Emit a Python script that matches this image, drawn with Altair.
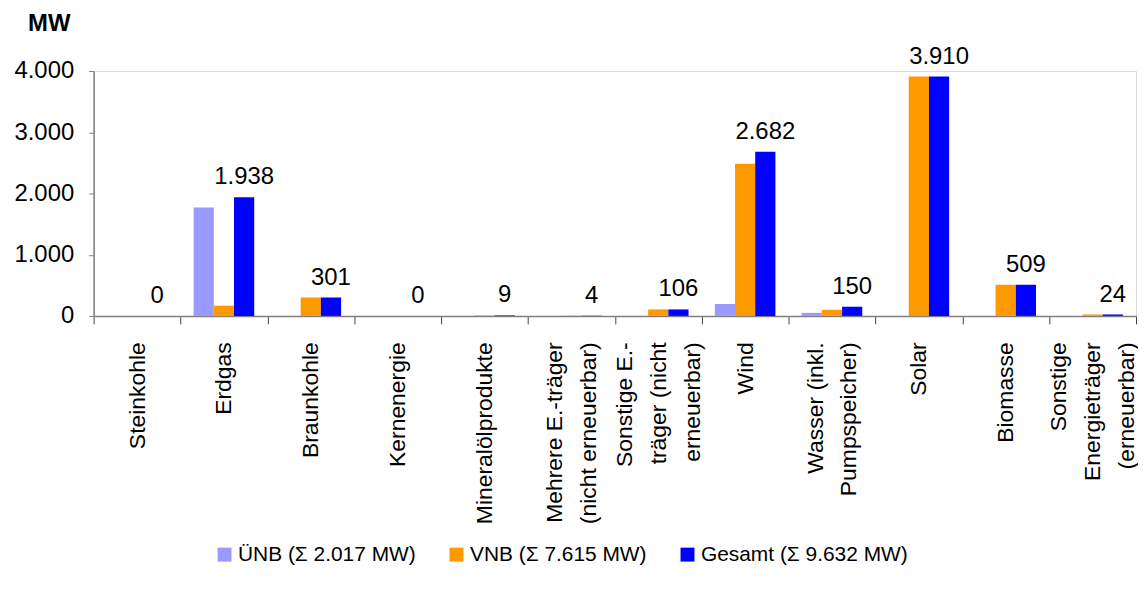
import altair as alt
import pandas as pd

categories = [
    "Steinkohle",
    "Erdgas",
    "Braunkohle",
    "Kernenergie",
    "Mineralölprodukte",
    "Mehrere E.-träger\n(nicht erneuerbar)",
    "Sonstige E.-\nträger (nicht\nerneuerbar)",
    "Wind",
    "Wasser (inkl.\nPumpspeicher)",
    "Solar",
    "Biomasse",
    "Sonstige\nEnergieträger\n(erneuerbar)",
]
series = ["ÜNB (Σ 2.017 MW)", "VNB (Σ 7.615 MW)", "Gesamt (Σ 9.632 MW)"]
colors = ["#9999FF", "#FF9900", "#0000FF"]
uenb = [0, 1772, 0, 0, 0, 0, 0, 195, 50, 0, 0, 0]
vnb = [0, 166, 301, 0, 9, 4, 106, 2487, 100, 3910, 509, 24]
gesamt = [0, 1938, 301, 0, 9, 4, 106, 2682, 150, 3910, 509, 24]
y_ticks = [0, 1000, 2000, 3000, 4000]

rows = []
for s, vals in zip(series, [uenb, vnb, gesamt]):
    for c, v in zip(categories, vals):
        rows.append({"cat": c, "series": s, "value": v})
df = pd.DataFrame(rows)

FONT = "Liberation Sans"
LH = 34

x_enc = alt.X(
    "cat:N",
    sort=categories,
    scale=alt.Scale(paddingInner=0, paddingOuter=0),
    axis=alt.Axis(
        title=None,
        labelAngle=270,
        labelFontSize=23,
        labelFont=FONT,
        labelColor="black",
        labelLimit=0,
        labelOverlap=False,
        labelPadding=18,
        labelLineHeight=LH,
        labelExpr="split(datum.label, '\\n')",
        labelOffset={
            "condition": [
                {"test": "length(split(datum.label, '\\n')) == 3", "value": -LH},
                {"test": "length(split(datum.label, '\\n')) == 2", "value": -LH / 2},
            ],
            "value": 0,
        },
        tickBand="extent",
        tickSize=8,
        tickColor="#444444",
        domainColor="#808080",
        domainWidth=1.5,
        grid=False,
    ),
)
xoff_enc = alt.XOffset(
    "series:N",
    sort=series,
    scale=alt.Scale(domain=series, paddingInner=0, paddingOuter=0.65),
)

y_scale = alt.Scale(domain=[0, 4000], nice=False)

bars = alt.Chart(df).mark_bar().encode(
    x=x_enc,
    xOffset=xoff_enc,
    y=alt.Y(
        "value:Q",
        scale=y_scale,
        axis=alt.Axis(
            values=y_ticks,
            labelExpr="replace(format(datum.value, ',d'), ',', '.')",
            labelFontSize=24,
            labelFont=FONT,
            labelColor="black",
            labelPadding=15,
            tickSize=5,
            tickColor="#808080",
            domainColor="#808080",
            domainWidth=1.5,
            grid=False,
            title="MW",
            titleAngle=0,
            titleX=-45,
            titleY=-48,
            titleAlign="center",
            titleBaseline="middle",
            titleFont=FONT,
            titleFontSize=24,
            titleFontWeight="bold",
            titleColor="black",
        ),
    ),
    color=alt.Color(
        "series:N",
        sort=series,
        scale=alt.Scale(domain=series, range=colors),
        legend=alt.Legend(
            title=None,
            orient="none",
            direction="horizontal",
            legendX=121,
            legendY=475,
            symbolType="square",
            symbolSize=196,
            symbolStrokeWidth=0,
            symbolOpacity=1,
            labelFontSize=21,
            labelFont=FONT,
            labelColor="black",
            labelLimit=0,
            labelOffset=3,
            columnPadding=30,
            padding=0,
        ),
    ),
)

labels = (
    alt.Chart(df)
    .transform_filter(alt.datum.series == series[2])
    .transform_calculate(lbl="replace(format(datum.value, ',d'), ',', '.')")
    .mark_text(fontSize=24, font=FONT, color="black", baseline="alphabetic", dy=-13)
    .encode(
        x=alt.X("cat:N", sort=categories),
        xOffset=alt.XOffset("series:N", sort=series),
        y=alt.Y("value:Q", scale=y_scale),
        text="lbl:N",
    )
)

chart = (
    alt.layer(bars, labels)
    .properties(
        width=1047,
        height=246,
        autosize=alt.AutoSizeParams(type="none"),
        padding={"left": 86, "top": 62, "right": 2, "bottom": 270},
    )
    .configure_view(stroke=None)
    .configure(font=FONT)
)

chart.save("out.html", embed_options={"renderer": "svg", "actions": False})
